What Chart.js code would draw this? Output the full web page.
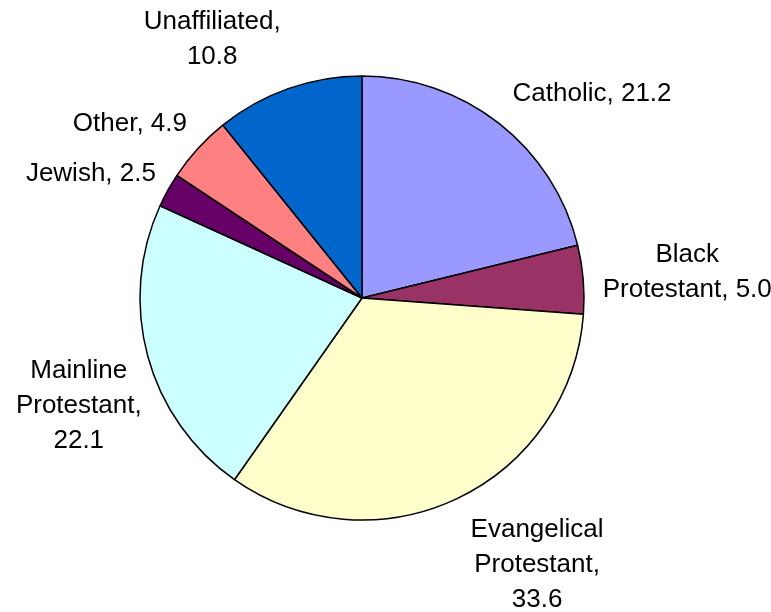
<!DOCTYPE html>
<html>
<head>
<meta charset="utf-8">
<script src="https://cdn.jsdelivr.net/npm/chart.js@4/dist/chart.umd.min.js"></script>
<style>
  html, body { margin: 0; padding: 0; background: #fff; }
  #wrap { width: 771px; height: 612px; }
</style>
</head>
<body>
<div id="wrap"><canvas id="myChart" width="771" height="612"></canvas></div>
<script>
const groups = ["Catholic", "Black Protestant", "Evangelical Protestant", "Mainline Protestant", "Jewish", "Other", "Unaffiliated"];
const shares = [21.2, 5.0, 33.6, 22.1, 2.5, 4.9, 10.8];
const sliceColors = ["#9999FF", "#993366", "#FFFFCC", "#CCFFFF", "#660066", "#FF8080", "#0066CC"];

// how each label is broken into lines
const labelLines = [
  ["Catholic, 21.2"],
  ["Black", "Protestant, 5.0"],
  ["Evangelical", "Protestant,", "33.6"],
  ["Mainline", "Protestant,", "22.1"],
  ["Jewish, 2.5"],
  ["Other, 4.9"],
  ["Unaffiliated,", "10.8"]
];
// nudge of each label block from the point on the rim at the slice's mid angle
const labelNudge = [[93, -30], [104, -7], [80, 66], [-69, 50], [-77, -16], [-68, -25], [-76, -49]];

const outsideLabels = {
  id: "outsideLabels",
  afterDraw(chart) {
    const ctx = chart.ctx;
    const arcs = chart.getDatasetMeta(0).data;
    ctx.save();
    ctx.font = "26px 'Liberation Sans', Arial, sans-serif";
    ctx.fillStyle = "#000";
    ctx.textAlign = "center";
    ctx.textBaseline = "middle";
    const lineH = 35;
    arcs.forEach((arc, i) => {
      const mid = (arc.startAngle + arc.endAngle) / 2;
      const px = arc.x + Math.cos(mid) * arc.outerRadius + labelNudge[i][0];
      const py = arc.y + Math.sin(mid) * arc.outerRadius + labelNudge[i][1];
      const lines = labelLines[i];
      const top = py - (lines.length - 1) * lineH / 2;
      lines.forEach((t, j) => ctx.fillText(t, px, top + j * lineH));
    });
    ctx.restore();
  }
};

const ctx = document.getElementById("myChart").getContext("2d");
const myChart = new Chart(ctx, {
  type: "pie",
  data: {
    labels: groups,
    datasets: [{
      data: shares,
      backgroundColor: sliceColors,
      borderColor: "#000",
      borderWidth: 1.5,
      hoverOffset: 0
    }]
  },
  options: {
    responsive: false,
    animation: false,
    radius: 222,
    layout: { padding: { left: 140, right: 187, top: 76, bottom: 92 } },
    plugins: {
      legend: { display: false },
      tooltip: { enabled: false }
    }
  },
  plugins: [outsideLabels]
});
</script>
</body>
</html>
